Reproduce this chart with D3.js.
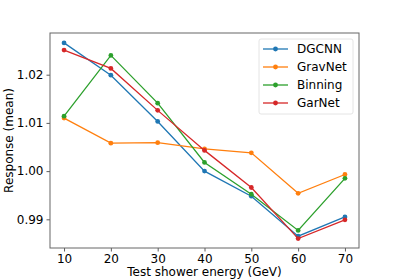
<!DOCTYPE html>
<html lang="en">
<head>
<meta charset="UTF-8">
<title>Response vs energy</title>
<script src="https://d3js.org/d3.v7.min.js"></script>
<style>
  body { margin: 0; background: #fff; }
  text { font-family: "DejaVu Sans", sans-serif; }
</style>
</head>
<body>
<script>
// energies (GeV)
const energies = [10, 20, 30, 40, 50, 60, 70];
const seriesNames = ["DGCNN", "GravNet", "Binning", "GarNet"];
const dgcnn   = [1.0266, 1.0199, 1.0103, 1.0000, 0.9948, 0.9865, 0.9905];
const gravnet = [1.0110, 1.0058, 1.0059, 1.0046, 1.0038, 0.9954, 0.9993];
const binning = [1.0114, 1.0240, 1.0141, 1.0018, 0.9952, 0.9877, 0.9985];
const garnet  = [1.0251, 1.0213, 1.0126, 1.0043, 0.9966, 0.9860, 0.9899];
const xTicks = [10, 20, 30, 40, 50, 60, 70];
const yTicks = [0.99, 1.00, 1.01, 1.02];

const colors = ["#1f77b4", "#ff7f0e", "#2ca02c", "#d62728"];
const allSeries = [dgcnn, gravnet, binning, garnet];

const W = 399, H = 279;
const m = { left: 50, right: 40, top: 33, bottom: 31 };

const svg = d3.select("body").append("svg")
  .attr("width", W).attr("height", H);

const x = d3.scaleLinear().domain([7, 73]).range([m.left, W - m.right]);
const y = d3.scaleLinear().domain([0.98405, 1.02865]).range([H - m.bottom, m.top]);

// axes
const xAxis = svg.append("g")
  .attr("transform", `translate(0,${H - m.bottom})`)
  .call(d3.axisBottom(x).tickValues(xTicks).tickSize(3.5).tickPadding(3).tickFormat(d3.format("d")));
const yAxis = svg.append("g")
  .attr("transform", `translate(${m.left},0)`)
  .call(d3.axisLeft(y).tickValues(yTicks).tickSize(3.5).tickPadding(3).tickFormat(d3.format(".2f")));
[xAxis, yAxis].forEach(a => {
  a.select(".domain").remove();
  a.selectAll("line").attr("stroke", "#333").attr("stroke-width", 0.8);
  a.selectAll("text").attr("font-size", 12).attr("fill", "#000")
    .attr("font-family", "DejaVu Sans, sans-serif");
});

// frame
svg.append("rect")
  .attr("x", m.left).attr("y", m.top)
  .attr("width", W - m.right - m.left).attr("height", H - m.bottom - m.top)
  .attr("fill", "none").attr("stroke", "#666").attr("stroke-width", 1);

// lines
const line = d3.line().x((d, i) => x(energies[i])).y(d => y(d));
allSeries.forEach((s, k) => {
  svg.append("path").datum(s)
    .attr("d", line).attr("fill", "none")
    .attr("stroke", colors[k]).attr("stroke-width", 1.3);
  svg.selectAll(null).data(s).enter().append("circle")
    .attr("cx", (d, i) => x(energies[i])).attr("cy", d => y(d))
    .attr("r", 2.4).attr("fill", colors[k]);
});

// axis labels
svg.append("text")
  .attr("x", (m.left + W - m.right) / 2).attr("y", H - 3)
  .attr("text-anchor", "middle").attr("font-size", 12)
  .text("Test shower energy (GeV)");
svg.append("text")
  .attr("transform", `translate(13,${(m.top + H - m.bottom) / 2}) rotate(-90)`)
  .attr("text-anchor", "middle").attr("font-size", 12)
  .text("Response (mean)");

// legend
const lg = svg.append("g").attr("transform", "translate(259,39)");
lg.append("rect").attr("width", 94).attr("height", 75).attr("rx", 2)
  .attr("fill", "#fff").attr("fill-opacity", 0.8)
  .attr("stroke", "#ddd").attr("stroke-width", 0.8);
seriesNames.forEach((n, k) => {
  const yy = 10 + k * 18;
  lg.append("line").attr("x1", 4).attr("x2", 29).attr("y1", yy).attr("y2", yy)
    .attr("stroke", colors[k]).attr("stroke-width", 1.3);
  lg.append("circle").attr("cx", 16.5).attr("cy", yy).attr("r", 2.4).attr("fill", colors[k]);
  lg.append("text").attr("x", 38).attr("y", yy).attr("dy", "0.35em")
    .attr("font-size", 12).text(n);
});
</script>
</body>
</html>
